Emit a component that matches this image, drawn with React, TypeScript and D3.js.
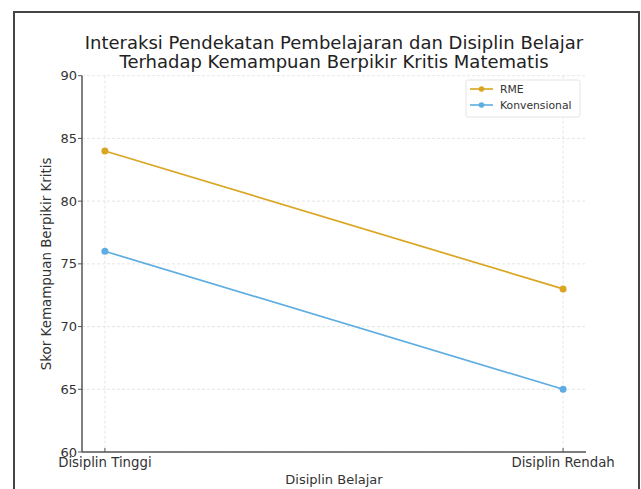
import React from "react";
import * as d3 from "d3";

const categories = ["Disiplin Tinggi", "Disiplin Rendah"];
const seriesNames = ["RME", "Konvensional"];
const rmeValues = [84, 73];
const konvValues = [76, 65];
const yTicks = [60, 65, 70, 75, 80, 85, 90];
const colors = ["#DAA520", "#5DADE2"];
const titleLines = [
  "Interaksi Pendekatan Pembelajaran dan Disiplin Belajar",
  "Terhadap Kemampuan Berpikir Kritis Matematis",
];

export default function App() {
  const W = 641, H = 489;
  const left = 82, right = 586, top = 75.7, bottom = 452;
  const x = d3.scaleLinear().domain([-0.05, 1.05]).range([left, right]);
  const y = d3.scaleLinear().domain([60, 90]).range([bottom, top]);
  const series = [rmeValues, konvValues];
  const line = d3
    .line<number>()
    .x((_, i) => x(i))
    .y((d) => y(d));
  const font = "DejaVu Sans, sans-serif";

  return (
    <div style={{ position: "absolute", left: 0, top: 0 }}>
      <svg width={W} height={H} style={{ display: "block", background: "#fff" }}>
        <rect x={14} y={12} width={625} height={500} fill="#fff" stroke="#444" strokeWidth={2} />
        {/* grid */}
        {yTicks.map((t) => (
          <line key={"gy" + t} x1={left} x2={right} y1={y(t)} y2={y(t)} stroke="#e0e0e0" strokeWidth={0.8} strokeDasharray="3,2" />
        ))}
        {categories.map((c, i) => (
          <line key={"gx" + c} x1={x(i)} x2={x(i)} y1={top} y2={bottom} stroke="#e0e0e0" strokeWidth={0.8} strokeDasharray="3,2" />
        ))}
        {/* spines */}
        <line x1={left} x2={left} y1={top} y2={bottom} stroke="#555" strokeWidth={1.5} />
        <line x1={left} x2={right} y1={bottom} y2={bottom} stroke="#555" strokeWidth={1.5} />
        {/* y ticks */}
        {yTicks.map((t) => (
          <g key={"yt" + t}>
            <line x1={left - 4} x2={left} y1={y(t)} y2={y(t)} stroke="#555" strokeWidth={1} />
            <text x={left - 5} y={y(t)} dy="0.35em" textAnchor="end" fontFamily={font} fontSize={13} fill="#333">
              {t}
            </text>
          </g>
        ))}
        {/* x ticks */}
        {categories.map((c, i) => (
          <g key={"xt" + c}>
            <line x1={x(i)} x2={x(i)} y1={bottom} y2={bottom - 4} stroke="#555" strokeWidth={1} />
            <text x={x(i)} y={bottom + 15} textAnchor="middle" fontFamily={font} fontSize={13.3} fill="#333">
              {c}
            </text>
          </g>
        ))}
        {/* series */}
        {series.map((vals, si) => (
          <g key={"s" + si}>
            <path d={line(vals) || ""} fill="none" stroke={colors[si]} strokeWidth={1.7} />
            {vals.map((v, i) => (
              <circle key={i} cx={x(i)} cy={y(v)} r={3.5} fill={colors[si]} />
            ))}
          </g>
        ))}
        {/* title */}
        {titleLines.map((t, i) => (
          <text key={"t" + i} x={334} y={49 + i * 19} textAnchor="middle" fontFamily={font} fontSize={18} fill="#222">
            {t}
          </text>
        ))}
        {/* axis labels */}
        <text x={334} y={484} textAnchor="middle" fontFamily={font} fontSize={13} fill="#333">
          Disiplin Belajar
        </text>
        <text transform={`translate(51, ${(top + bottom) / 2}) rotate(-90)`} textAnchor="middle" fontFamily={font} fontSize={13.4} fill="#333">
          Skor Kemampuan Berpikir Kritis
        </text>
        {/* legend */}
        <rect x={466} y={80} width={114} height={37} rx={2} fill="#fff" stroke="#ddd" strokeWidth={0.8} />
        {seriesNames.map((n, i) => (
          <g key={"l" + n}>
            <line x1={470} x2={493} y1={89 + i * 16} y2={89 + i * 16} stroke={colors[i]} strokeWidth={1.6} />
            <circle cx={481.5} cy={89 + i * 16} r={2.8} fill={colors[i]} />
            <text x={500} y={89 + i * 16} dy="0.35em" fontFamily={font} fontSize={10.8} fill="#333">
              {n}
            </text>
          </g>
        ))}
      </svg>
    </div>
  );
}
